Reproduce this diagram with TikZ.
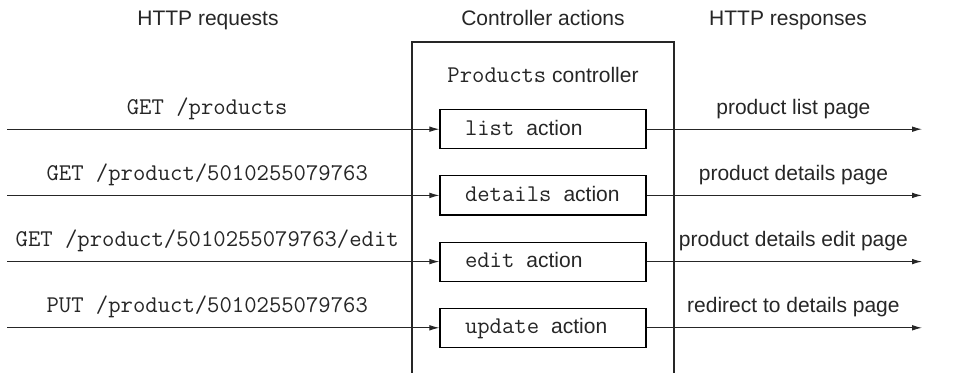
\documentclass[tikz,border=0pt]{standalone}
\usepackage{fontspec}
\setmainfont{Liberation Sans}
\usepackage{tikz}
\usetikzlibrary{matrix, positioning, calc, arrows.meta}

\newcommand{\code}[1]{{\fontsize{12}{14}\selectfont\ttfamily #1}}
\newcommand{\act}[1]{\code{#1}\hspace{6pt}action}

\begin{document}
\begin{tikzpicture}[x=0.5pt, y=-0.5pt,
        font=\fontsize{10.5}{12.6}\selectfont,
        color=black!85,
        >={Latex[length=5pt,width=2.8pt]},
        actbox/.style={draw, line width=0.6pt, text width=78pt, inner xsep=12.5pt,
            inner ysep=0pt, align=left, minimum height=19.5pt,
            text height=7pt, text depth=1pt},
        lbl/.style={anchor=base, inner sep=0pt, yshift=7.5pt}
    ]
    \useasboundingbox (0,0) rectangle (961,373);

    % column titles
    \node[anchor=base] (hreq) at (208,26) {HTTP requests};
    \node[anchor=base] (hctl) at (543,26) {Controller actions};
    \node[anchor=base] (hres) at (788,26) {HTTP responses};

    % controller box, open at the bottom
    \coordinate (boxnw) at (412,42);
    \coordinate (boxne) at (674,42);
    \draw[line width=0.6pt] (412,373) -- (boxnw) -- (boxne) -- (674,373);
    \node[anchor=base] (ctl) at (543,83) {\code{Products} controller};

    \matrix (acts) [
        matrix of nodes,
        row sep=13pt,
        nodes={actbox}
      ] at (543,228.5) {
        \act{list}    \\
        \act{details} \\
        \act{edit}    \\
        \act{update}  \\
    };

    \coordinate (lft) at (7,0);
    \coordinate (rgt) at (922,0);
    \begin{scope} [->, line width=0.5pt]
    \draw (lft |- acts-1-1.west) -- node[lbl, pos=0.463] {\code{GET /products}} (acts-1-1.west);
    \draw (lft |- acts-2-1.west) -- node[lbl, pos=0.463] {\code{GET /product/5010255079763}} (acts-2-1.west);
    \draw (lft |- acts-3-1.west) -- node[lbl, pos=0.463] {\code{GET /product/5010255079763/edit}} (acts-3-1.west);
    \draw (lft |- acts-4-1.west) -- node[lbl, pos=0.463] {\code{PUT /product/5010255079763}} (acts-4-1.west);
    \draw (acts-1-1.east) -- node[lbl, pos=0.533] {product list page} (rgt |- acts-1-1.east);
    \draw (acts-2-1.east) -- node[lbl, pos=0.533] {product details page} (rgt |- acts-2-1.east);
    \draw (acts-3-1.east) -- node[lbl, pos=0.533] {product details edit page} (rgt |- acts-3-1.east);
    \draw (acts-4-1.east) -- node[lbl, pos=0.533] {redirect to details page} (rgt |- acts-4-1.east);
    \end{scope}
\end{tikzpicture}
\end{document}
